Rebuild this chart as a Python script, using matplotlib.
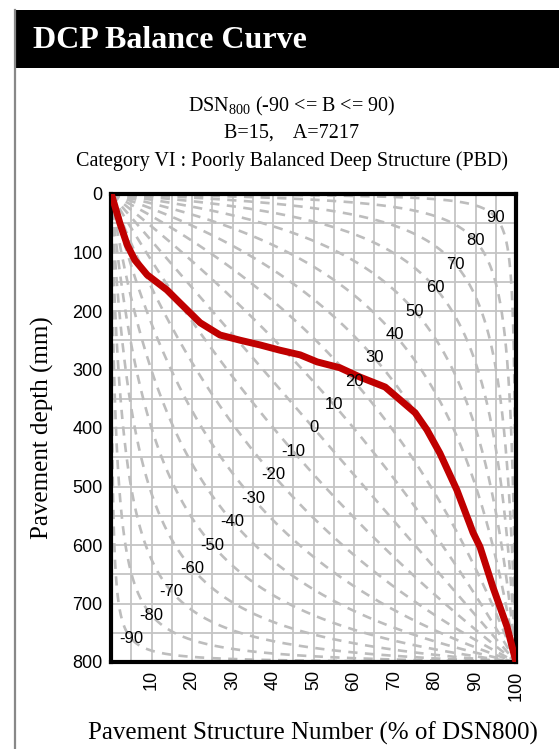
import matplotlib.pyplot as plt
import numpy as np
from matplotlib.patches import Rectangle
from matplotlib.lines import Line2D

# measured DCP curve (depth in mm, % of DSN800)
depth = [0, 5, 50, 87, 113, 138, 164, 186, 220, 241, 250, 258, 267, 275, 287,
         297, 313, 330, 352, 374, 403, 443, 506, 579, 603, 672, 740, 800]
dsn_pct = [0, 0.3, 2.2, 4.0, 5.9, 8.9, 13.8, 17.0, 22.0, 26.9, 31.9, 36.8, 41.7,
           46.7, 50.9, 56.5, 61.5, 67.7, 71.4, 75.1, 78.0, 81.2, 85.4, 89.4,
           91.1, 94.3, 97.8, 100]

balance = list(range(-90, 100, 10))
x_ticks = [10, 20, 30, 40, 50, 60, 70, 80, 90, 100]
y_ticks = [0, 100, 200, 300, 400, 500, 600, 700, 800]

W, H = 559, 749
serif = 'Liberation Serif'
sans = 'Liberation Sans'

fig = plt.figure(figsize=(W / 100, H / 100), dpi=100)

# header bar and left border
fig.patches.append(Rectangle((14 / W, 1 - 68 / H), 1, 58 / H, transform=fig.transFigure,
                             facecolor='black', edgecolor='none', zorder=0))
fig.lines.append(Line2D([14.5 / W, 14.5 / W], [0, 1 - 10 / H], transform=fig.transFigure,
                        color='#888888', lw=1.6))
fig.text(33 / W, 1 - 40 / H, 'DCP Balance Curve', color='white', fontsize=23,
         fontweight='bold', family=serif, va='center', ha='left')

cx = 292 / W
fig.text(cx, 1 - 106 / H, r'DSN$_{\mathregular{800}}$ (-90 <= B <= 90)', fontsize=14.5,
         family=serif, ha='center', va='center')
fig.text(cx, 1 - 133 / H, 'B=15,    A=7217', fontsize=14.5, family=serif,
         ha='center', va='center')
fig.text(cx, 1 - 161 / H, 'Category VI : Poorly Balanced Deep Structure (PBD)',
         fontsize=14.5, family=serif, ha='center', va='center')

ax = fig.add_axes([111 / W, 1 - 662 / H, 405 / W, 468 / H])

# balance curves
t = np.linspace(0, 1, 3000)
for b in balance:
    a = 0.5 + b / 200
    k = ((1 - a) / a) ** 2
    s = t / (t + k * (1 - t))
    ax.plot(s * 100, t * 800, color='#bdbdbd', lw=1.9, ls=(0, (3.5, 2.8)), zorder=2)
    ax.text(a * 100, (1 - a) * 800, str(b), fontsize=12, family=sans,
            ha='center', va='center', zorder=4)

ax.plot(dsn_pct, depth, color='#c00000', lw=5, solid_capstyle='butt', zorder=3)

ax.set_xlim(0, 100)
ax.set_ylim(800, 0)
ax.set_xticks(x_ticks)
ax.set_xticks(np.arange(0, 101, 5), minor=True)
ax.set_yticks(y_ticks)
ax.set_yticks(np.arange(0, 801, 50), minor=True)
ax.grid(which='both', color='#c4c4c4', lw=1.3, zorder=1)
ax.set_axisbelow(True)
ax.tick_params(which='both', length=0)
ax.tick_params(axis='x', labelrotation=90, pad=6)
ax.tick_params(axis='y', pad=6)
for lab in ax.get_xticklabels() + ax.get_yticklabels():
    lab.set_family(sans)
    lab.set_fontsize(13)
for sp in ax.spines.values():
    sp.set_linewidth(3)
    sp.set_color('black')

fig.text(313 / W, 1 - 733 / H, 'Pavement Structure Number (% of DSN800)', fontsize=18,
         family=serif, ha='center', va='center')
fig.text(42 / W, 1 - 428 / H, 'Pavement depth (mm)', fontsize=18, family=serif,
         ha='center', va='center', rotation=90)

fig.savefig('out.png', dpi=100)
